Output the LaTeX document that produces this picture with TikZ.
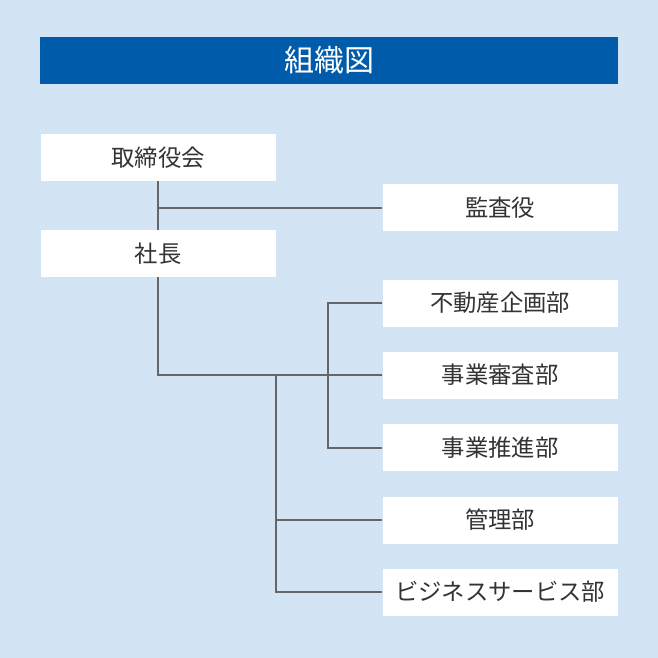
\documentclass[tikz,border=0pt]{standalone}
\usepackage{fontspec}
\setmainfont{Noto Sans CJK JP}
\usepackage{tikz}

\definecolor{bgblue}{HTML}{D3E5F5}
\definecolor{titleblue}{HTML}{005BAB}
\definecolor{linegray}{HTML}{666666}
\definecolor{textgray}{HTML}{333333}

\tikzset{
    unit/.style={fill=white,
        minimum width=235\pxu,
        minimum height=47\pxu,
        inner sep=0pt,
        text=textgray,
        font=\fontsize{17.5}{19}\selectfont,
    },
    link/.style={draw=linegray, line width=1.5pt},
}
\newlength{\pxu}
\setlength{\pxu}{0.75pt}

\begin{document}
\begin{tikzpicture}[x=0.75pt, y=-0.75pt]
        % background
        \fill[bgblue] (0,0) rectangle (658,658);
        \useasboundingbox (0,0) rectangle (658,658);

        % title
        \node [fill=titleblue,
            minimum width=578\pxu,
            minimum height=47\pxu,
            inner sep=0pt,
            text=white,
            font=\fontsize{22.5}{24}\selectfont,
        ] (title) at (329,60.5){組織図};

        % left column
        \node [unit] (board) at (158,157.5){取締役会};
        \node [unit] (ceo) at (158,253.5){社長};

        % right column
        \node [unit] (audit) at (500,207.5){監査役};
        \node [unit] (planning) at (500,303){不動産企画部};
        \node [unit] (review) at (500,375){事業審査部};
        \node [unit] (promo) at (500,447.5){事業推進部};
        \node [unit] (admin) at (500,520){管理部};
        \node [unit] (service) at (500,592){ビジネスサービス部};

        % branch points
        \coordinate (lower) at (276,0);
        \coordinate (upper) at (328,0);

        \draw[link] (board.south) -- (ceo.north);
        \draw[link] (board.south |- audit.west) -- (audit.west);
        \draw[link] (ceo.south) |- (review.west);
        \draw[link] (planning.west) -- (planning.west -| upper) |- (promo.west);
        \draw[link] (lower |- review.west) |- (service.west);
        \draw[link] (lower |- admin.west) -- (admin.west);
        \end{tikzpicture}
\end{document}
